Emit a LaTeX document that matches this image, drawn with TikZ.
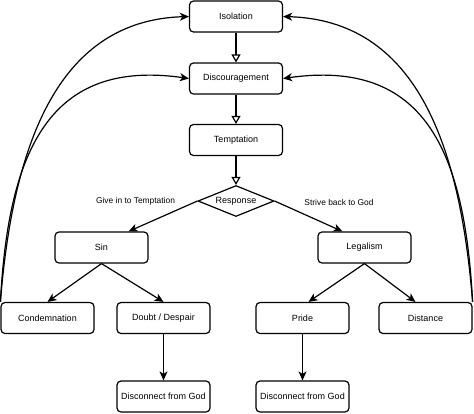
\documentclass[tikz,border=0pt]{standalone}
\usepackage{fontspec}
\setmainfont{Liberation Sans}
\usetikzlibrary{shapes.geometric,arrows.meta}

\begin{document}
\begin{tikzpicture}[x=1pt, y=-1pt, line width=1.2pt,
	box/.style={rectangle, rounded corners=4pt, draw, fill=white, minimum width=93pt, minimum height=31pt, inner sep=0pt, font=\fontsize{9}{11}\selectfont},
	choice/.style={diamond, draw, fill=white, aspect=2.5, minimum width=76pt, minimum height=31pt, inner sep=0pt, font=\fontsize{9}{11}\selectfont},
	lbl/.style={inner sep=0pt, font=\fontsize{8.4}{10}\selectfont},
	flow/.style={-{Triangle[open, length=8pt, width=9pt]}},
	leads/.style={-{Stealth[length=9pt, width=8pt, inset=2.5pt]}}]
	\useasboundingbox (0,0) rectangle (474,413);
	\node (Iso)  at (236,  16.5)	[box]		{Isolation};
	\node (Disc) at (236,  78.5)	[box]		{Discouragement};
	\node (Temp) at (236, 140)	[box]		{Temptation};
	\node (Resp) at (236, 201)	[choice]	{Response};
	\node (Give) at (135.5, 201.5)	[lbl]		{Give in to Temptation};
	\node (Back) at (339, 202)	[lbl]		{Strive back to God};
	\node (Sin)  at (101.5, 247.5)	[box]		{Sin};
	\node (Leg)  at (364.5, 247.5)	[box]		{Legalism};
	\node (Cond) at ( 47.5, 318)	[box]		{Condemnation};
	\node (Doub) at (163.5, 318)	[box]		{Doubt / Despair};
	\node (Prid) at (302.5, 318)	[box]		{Pride};
	\node (Dist) at (425.5, 318)	[box]		{Distance};
	\node (DisL) at (163.5, 396.5)	[box]		{Disconnect from God};
	\node (DisR) at (302.5, 396.5)	[box]		{Disconnect from God};
	\draw [flow] (Iso) -- (Disc);
	\draw [flow] (Disc) -- (Temp);
	\draw [flow] (Temp) -- (Resp);
	\draw [leads] (Resp.west) -- ([xshift=-20pt]Sin.north east);
	\draw [leads] (Resp.east) -- ([xshift=25pt]Leg.north west);
	\draw [leads] (Sin.south) -- (Cond.north);
	\draw [leads] (Sin.south) -- (Doub.north);
	\draw [leads] (Leg.south) -- ([xshift=6pt]Prid.north);
	\draw [leads] (Leg.south) -- ([xshift=-10pt]Dist.north);
	\draw [leads] (Doub) -- (DisL);
	\draw [leads] (Prid) -- (DisR);
	\draw [leads] (Cond.north west) .. controls +(13,-162) and +(-129,4) .. (Iso.west);
	\draw [leads] (Cond.north west) .. controls +(8,-152) and +(-139,-20) .. (Disc.west);
	\draw [leads] (Dist.north east) .. controls +(-13,-162) and +(131,4) .. (Iso.east);
	\draw [leads] (Dist.north east) .. controls +(-8,-152) and +(141,-20) .. (Disc.east);
\end{tikzpicture}
\end{document}
